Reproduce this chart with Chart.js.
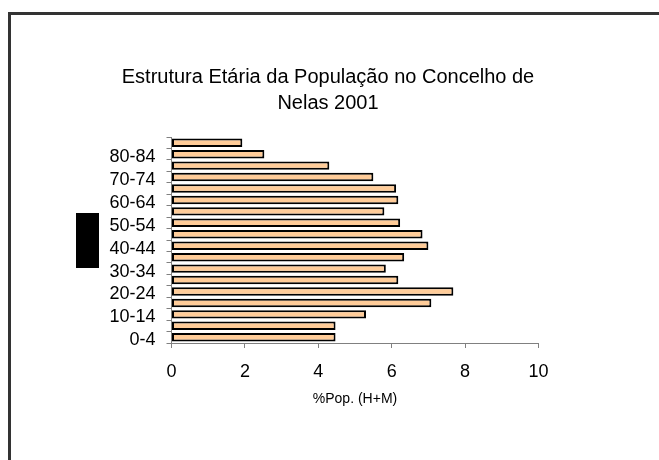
<!DOCTYPE html>
<html>
<head>
<meta charset="utf-8">
<script src="https://cdn.jsdelivr.net/npm/chart.js@4"></script>
<style>
  body { margin: 0; background: #fff; overflow: hidden; }
  #wrap { position: relative; width: 659px; height: 460px; }
  #moldura { position: absolute; left: 8px; top: 12px; width: 700px; height: 500px;
    border-top: 3px solid #333; border-left: 3px solid #333; pointer-events: none; }
  #bloco { position: absolute; left: 76px; top: 213px; width: 23px; height: 55px; background: #000; }
</style>
</head>
<body>
<div id="wrap">
  <canvas id="grafica" width="659" height="460"></canvas>
  <div id="moldura"></div>
  <div id="bloco"></div>
</div>
<script>
const idades = ["0-4", "5-9", "10-14", "15-19", "20-24", "25-29", "30-34", "35-39", "40-44",
  "45-49", "50-54", "55-59", "60-64", "65-69", "70-74", "75-79", "80-84", "85+"];
const percentagens = [4.47, 4.47, 5.30, 7.08, 7.68, 6.18, 5.84, 6.34, 7.00,
  6.84, 6.23, 5.80, 6.18, 6.12, 5.50, 4.30, 2.53, 1.93];
const titulo = ["Estrutura Etária da População no Concelho de", "Nelas 2001"];
const tituloEixo = "%Pop. (H+M)";

const fonte = "'Liberation Sans', Arial, sans-serif";
const cinza = "#808080";

// o titulo fica centrado um pouco a esquerda do centro da area do grafico
const moverTitulo = {
  id: "moverTitulo",
  afterLayout(chart) {
    const t = chart.titleBlock;
    if (t) { t.left += 10.5; t.right += 10.5; }
  }
};

const ctx = document.getElementById("grafica").getContext("2d");

new Chart(ctx, {
  type: "bar",
  data: {
    labels: idades,
    datasets: [{
      data: percentagens,
      backgroundColor: "#FFCC99",
      borderColor: "#000",
      borderWidth: 2,
      borderSkipped: false,
      barPercentage: 0.74,
      categoryPercentage: 1
    }]
  },
  options: {
    indexAxis: "y",
    responsive: false,
    animation: false,
    layout: { padding: { left: 96.5, right: 120.5, top: 64, bottom: 47 } },
    plugins: {
      legend: { display: false },
      tooltip: { enabled: false },
      title: {
        display: true,
        text: titulo,
        color: "#000",
        font: { family: fonte, size: 20, weight: "normal", lineHeight: 1.3 },
        padding: { top: 0, bottom: 21 }
      }
    },
    scales: {
      y: {
        reverse: true,
        offset: true,
        afterFit: s => { s.width = 75; },
        grid: { offset: true, drawOnChartArea: false, tickLength: 5, color: cinza },
        border: { color: cinza },
        ticks: {
          autoSkip: false,
          padding: 11,
          labelOffset: 3,
          color: "#000",
          font: { family: fonte, size: 18 },
          callback: (v, i) => i % 2 === 0 ? idades[i] : ""
        }
      },
      x: {
        min: 0,
        max: 10,
        afterFit: s => { s.height = 70; },
        grid: { drawOnChartArea: false, tickLength: 5, color: cinza },
        border: { color: cinza },
        ticks: {
          stepSize: 2,
          padding: 13,
          color: "#000",
          font: { family: fonte, size: 18 }
        },
        title: {
          display: true,
          text: tituloEixo,
          color: "#000",
          font: { family: fonte, size: 14 },
          padding: { top: 4, bottom: 5 }
        }
      }
    }
  },
  plugins: [moverTitulo]
});
</script>
</body>
</html>
